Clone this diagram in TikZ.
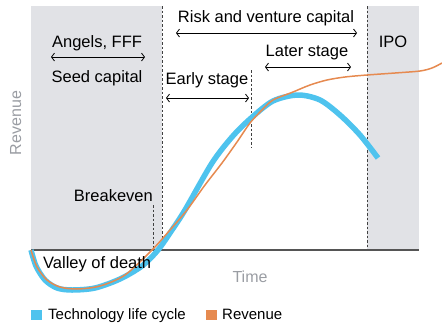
\documentclass[tikz,border=0pt]{standalone}
\usepackage{fontspec}
\setmainfont{Liberation Sans}
\usepackage{tikz}
\usetikzlibrary{arrows.meta}
\usetikzlibrary{positioning}

\definecolor{phasegray}{HTML}{E1E2E6}
\definecolor{lifeblue}{HTML}{4EC3EE}
\definecolor{revorange}{HTML}{E68A50}
\definecolor{axisgray}{HTML}{555555}
\definecolor{labelgray}{HTML}{9A9DA3}

\tikzset{
  phase/.style={fill=phasegray},
  divider/.style={draw=black!75,line width=0.9pt,dash pattern=on 2.5pt off 2pt},
  span/.style={line width=0.8pt,{Straight Barb[length=3pt,width=8pt]}-{Straight Barb[length=3pt,width=8pt]}},
  lbl/.style={font=\fontsize{16.5}{19}\selectfont,inner sep=0pt},
  axlbl/.style={font=\fontsize{16}{19}\selectfont,text=labelgray,inner sep=0pt},
  legtext/.style={font=\fontsize{15}{18}\selectfont,inner sep=0pt,anchor=base west},
  legbox/.style={minimum size=10.5pt,inner sep=0pt}
}

\begin{document}
\begin{tikzpicture}[x=1pt,y=-1pt]
  \useasboundingbox (0,0) rectangle (442,325);
  \fill[phase]
    (31,6) rectangle (162,250);
  \fill[phase]
    (367,6) rectangle (419,250);

  \coordinate (seedTop) at (162.5,6);
  \coordinate (seedBot) at (162.5,240);
  \coordinate (ipoTop) at (367,6);
  \coordinate (ipoBot) at (367,250);
  \coordinate (evenTop) at (153,205);
  \coordinate (evenBot) at (153,250);
  \coordinate (earlyTop) at (251,70);
  \coordinate (earlyBot) at (251,148);
  \draw[divider] (seedTop) -- (seedBot);
  \draw[divider] (ipoTop) -- (ipoBot);
  \draw[divider] (evenTop) -- (evenBot);
  \draw[divider] (earlyTop) -- (earlyBot);

  \coordinate (origin) at (31,250);
  \coordinate (axisEnd) at (419,250);
  \draw[axisgray,line width=1.2pt]
    (origin)
    --
    (axisEnd);

  \draw[lifeblue,line width=5.5pt]
    plot[smooth] coordinates {(31,250) (36,266) (45,280) (57,288) (72,290)
      (95,288) (120,279) (142,266) (158,250) (172,230) (185,210) (212,163)
      (232,137) (250,119) (273,101) (298,95) (320,100) (340,115) (360,135)
      (378,158)};
  \draw[revorange,line width=1.5pt]
    plot[smooth] coordinates {(31,250) (37,267) (47,280) (60,287) (77,289)
      (100,286) (125,275) (152,250) (170,230) (187,210) (205,185) (222,163)
      (237,142) (250,123) (262,110) (273,100) (293,92) (310,85) (327,80)
      (345,77) (367,75) (395,73) (420,71) (432,68) (442,63)};

  \node[lbl,anchor=base] (angels) at (97,47) {Angels, FFF};
  \node[lbl,anchor=base] (seed) at (97,82) {Seed capital};
  \coordinate (seedL) at (51,57);
  \coordinate (seedR) at (145,57);
  \draw[span] (seedL) -- (seedR);

  \node[lbl,anchor=base] (risk) at (266,22) {Risk and venture capital};
  \coordinate (riskL) at (176,33);
  \coordinate (riskR) at (357,33);
  \draw[span] (riskL) -- (riskR);

  \node[lbl,anchor=base] (later) at (307,56) {Later stage};
  \coordinate (laterL) at (265,67);
  \coordinate (laterR) at (351,67);
  \draw[span] (laterL) -- (laterR);

  \node[lbl,anchor=base] (early) at (207,84) {Early stage};
  \coordinate (earlyL) at (166,98);
  \coordinate (earlyR) at (249,98);
  \draw[span] (earlyL) -- (earlyR);

  \node[lbl,anchor=base] (ipo) at (393,47) {IPO};
  \node[lbl,anchor=base east] (breakeven) at (153,201) {Breakeven};
  \node[lbl,anchor=base west] (valley) at (43,268) {Valley of death};

  \node[axlbl,anchor=base] (time) at (250,282) {Time};
  \node[axlbl,anchor=base,rotate=90] (revaxis) at (21,123) {Revenue};

  \node[legbox,fill=lifeblue] (lifekey) at (36.5,315) {};
  \node[legtext] (lifetext) at (48,319) {Technology life cycle};
  \node[legbox,fill=revorange] (revkey) at (211.5,315) {};
  \node[legtext] (revtext) at (222,319) {Revenue};
\end{tikzpicture}
\end{document}
